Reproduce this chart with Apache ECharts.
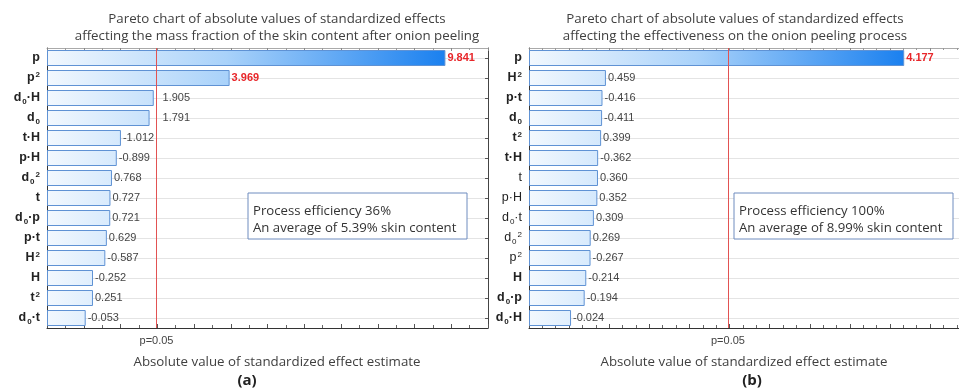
<!DOCTYPE html>
<html>
<head>
<meta charset="utf-8">
<script src="https://cdn.jsdelivr.net/npm/echarts@6/dist/echarts.min.js"></script>
<style>
  html, body { margin: 0; padding: 0; background: #fff; }
  #chart { width: 959px; height: 388px; }
</style>
</head>
<body>
<div id="chart"></div>
<script>
// Effect terms (top to bottom) and signed standardized effects
const termsA = ['p', 'p²', 'd₀·H', 'd₀', 't·H', 'p·H', 'd₀²', 't', 'd₀·p', 'p·t', 'H²', 'H', 't²', 'd₀·t'];
const effectsA = [9.841, 3.969, 1.905, 1.791, -1.012, -0.899, 0.768, 0.727, 0.721, 0.629, -0.587, -0.252, 0.251, -0.053];

const termsB = ['p', 'H²', 'p·t', 'd₀', 't²', 't·H', 't', 'p·H', 'd₀·t', 'd₀²', 'p²', 'H', 'd₀·p', 'd₀·H'];
const effectsB = [4.177, 0.459, -0.416, -0.411, 0.399, -0.362, 0.360, 0.352, 0.309, 0.269, -0.267, -0.214, -0.194, -0.024];

// Significance threshold (p = 0.05)
const critValue = 1.98;
const critLabel = 'p=0.05';

const rangeA = [-1, 11];
const rangeB = [-0.5, 4.86];

const titleA = 'Pareto chart of absolute values of standardized effects\naffecting the mass fraction of the skin content after onion peeling';
const titleB = 'Pareto chart of absolute values of standardized effects\naffecting the effectiveness on the onion peeling process';
const noteA = ['Process efficiency 36%', 'An average of 5.39% skin content'];
const noteB = ['Process efficiency 100%', 'An average of 8.99% skin content'];
const xName = 'Absolute value of standardized effect estimate';
const panelTags = ['(a)', '(b)'];

// Terms in panel (b) that are set in regular weight
const plainTermsB = ['t', 'p·H', 'd₀·t', 'd₀²', 'p²'];

const SANS = '"Liberation Sans", Arial, sans-serif';
const UI = '"Open Sans", sans-serif';

function richTerm(name, plain) {
  const pre = plain ? 'r' : 'b';
  let out = '', buf = '';
  const flush = () => { if (buf) { out += '{' + pre + '|' + buf + '}'; buf = ''; } };
  for (const ch of name) {
    if (ch === '₀') { flush(); out += '{' + pre + 'Sub|0}'; }
    else if (ch === '²') { flush(); out += '{' + pre + 'Sup|2}'; }
    else buf += ch;
  }
  flush();
  return out;
}

const richStyles = {
  b: { fontFamily: SANS, fontWeight: 'bold', fontSize: 12.5, color: '#222', lineHeight: 15 },
  bSub: { fontFamily: SANS, fontWeight: 'bold', fontSize: 8, color: '#222', lineHeight: 8, verticalAlign: 'bottom', padding: [0, 0, 0, 1] },
  bSup: { fontFamily: SANS, fontWeight: 'bold', fontSize: 8, color: '#222', lineHeight: 8, verticalAlign: 'top', padding: [0, 0, 0, 1] },
  r: { fontFamily: SANS, fontSize: 12.5, color: '#222', lineHeight: 15 },
  rSub: { fontFamily: SANS, fontSize: 8, color: '#222', lineHeight: 8, verticalAlign: 'bottom', padding: [0, 0, 0, 1] },
  rSup: { fontFamily: SANS, fontSize: 8, color: '#222', lineHeight: 8, verticalAlign: 'top', padding: [0, 0, 0, 1] }
};

const GRID_TOP = 48, GRID_H = 280;

function bottomAxis(gridIndex, range, step, minorSplit, namePad) {
  return {
    type: 'value', gridIndex, position: 'bottom', min: range[0], max: range[1],
    startValue: range[0], interval: step,
    axisLine: { show: true, onZero: false, lineStyle: { color: '#333', width: 1 } },
    axisTick: { show: true, inside: true, length: 4, lineStyle: { color: '#555' } },
    minorTick: { show: true, splitNumber: minorSplit, length: 3, lineStyle: { color: '#666' } },
    axisLabel: { show: false },
    splitLine: { show: false },
    name: xName, nameLocation: 'middle', nameGap: 28,
    nameTextStyle: { fontFamily: UI, fontSize: 13.3, color: '#404040', padding: namePad }
  };
}
function topAxis(gridIndex, range, step, minorSplit) {
  return {
    type: 'value', gridIndex, position: 'top', min: range[0], max: range[1], interval: step,
    axisLine: { show: true, onZero: false, lineStyle: { color: '#aaa', width: 1 } },
    axisTick: { show: true, inside: true, length: 3, lineStyle: { color: '#888' } },
    minorTick: { show: true, splitNumber: minorSplit, length: 2, lineStyle: { color: '#999' } },
    axisLabel: { show: false },
    splitLine: { show: false }
  };
}
function termAxis(gridIndex, terms, plainSet) {
  return {
    type: 'category', gridIndex, position: 'left', data: terms, inverse: true,
    axisLine: { show: true, onZero: false, lineStyle: { color: '#333' } },
    axisTick: { show: true, inside: true, alignWithLabel: true, length: 3, lineStyle: { color: '#555' } },
    axisLabel: {
      margin: 7,
      formatter: (v) => richTerm(v, plainSet.indexOf(v) >= 0),
      rich: richStyles
    },
    splitLine: { show: false }
  };
}

// Faint row guides through each term's centre, kept behind the bars
function rowGuides(xIdx, yIdx, terms) {
  return {
    type: 'line', xAxisIndex: xIdx, yAxisIndex: yIdx, data: [], z: 0, silent: true,
    markLine: {
      silent: true, symbol: 'none', animation: false, z: 0,
      data: terms.map((t) => ({ yAxis: t })),
      lineStyle: { color: '#e4e4e4', width: 1, type: 'solid' },
      label: { show: false }
    }
  };
}

// Vertical significance line with its p-level caption under the axis
function thresholdLine(xIdx, yIdx) {
  return {
    type: 'line', xAxisIndex: xIdx, yAxisIndex: yIdx, data: [], z: 5, silent: true,
    markLine: {
      silent: true, symbol: 'none', animation: false, z: 5,
      data: [{ xAxis: critValue }],
      lineStyle: { color: '#e25252', width: 1, type: 'solid', opacity: 1 },
      label: { show: true, position: 'end', distance: 7, formatter: critLabel,
               fontFamily: SANS, fontSize: 11, color: '#444' }
    }
  };
}

function barSeries(xIdx, yIdx, effects, extra) {
  return {
    type: 'bar', xAxisIndex: xIdx, yAxisIndex: yIdx, z: 2,
    barCategoryGap: '20%',
    data: effects.map((v, i) => {
      const item = { value: Math.abs(v) };
      const lab = {};
      if (Math.abs(v) > critValue) { lab.color = '#e8262a'; lab.fontWeight = 'bold'; }
      if (extra && extra.offsets && extra.offsets[i]) lab.offset = [extra.offsets[i], 0];
      item.label = lab;
      return item;
    }),
    itemStyle: {
      color: extra && extra.fill ? extra.fill : '#9cc9f5',
      borderColor: '#5f92d4', borderWidth: 1
    },
    label: {
      show: true, position: 'right', distance: 2,
      formatter: (p) => effects[p.dataIndex].toFixed(3),
      fontFamily: SANS, fontSize: 11, color: '#444'
    },
    animation: false
  };
}

function noteGraphic(x, y, lines) {
  return [
    { type: 'rect', shape: { x: x, y: y, width: 219, height: 46 },
      style: { fill: '#fff', stroke: '#6f8cbf', lineWidth: 1 }, z: 10 },
    { type: 'text', x: x + 5, y: y + 18,
      style: { text: lines[0], fontFamily: UI, fontSize: 13.2, fill: '#333', verticalAlign: 'middle' }, z: 11 },
    { type: 'text', x: x + 5, y: y + 35,
      style: { text: lines[1], fontFamily: UI, fontSize: 13.2, fill: '#333', verticalAlign: 'middle' }, z: 11 }
  ];
}

function buildOption(extraA, extraB) {
  const titleStyle = { fontFamily: UI, fontSize: 13.3, fontWeight: 'normal', color: '#404040', lineHeight: 17 };
  return {
    backgroundColor: '#fff',
    animation: false,
    title: [
      { text: titleA, left: 277, top: 11, padding: 0, textAlign: 'center', textStyle: titleStyle },
      { text: titleB, left: 735, top: 11, padding: 0, textAlign: 'center', textStyle: titleStyle }
    ],
    grid: [
      { left: 47, top: GRID_TOP, width: 441, height: GRID_H },
      { left: 529, top: GRID_TOP, right: 0, height: GRID_H }
    ],
    xAxis: [
      bottomAxis(0, rangeA, 1, 2, [0, 0, 0, 19]),
      topAxis(0, rangeA, 1, 2),
      bottomAxis(1, rangeB, 0.5, 3, [0, 0, 0, 0]),
      topAxis(1, rangeB, 0.5, 3)
    ],
    yAxis: [
      termAxis(0, termsA, []),
      {
        type: 'category', gridIndex: 0, position: 'right', data: termsA, inverse: true,
        axisLine: { show: true, onZero: false, lineStyle: { color: '#444' } },
        axisTick: { show: true, inside: true, alignWithLabel: true, length: 3, lineStyle: { color: '#555' } },
        axisLabel: { show: false }, splitLine: { show: false }
      },
      termAxis(1, termsB, plainTermsB)
    ],
    series: [
      rowGuides(0, 0, termsA),
      rowGuides(2, 2, termsB),
      barSeries(0, 0, effectsA, extraA),
      barSeries(2, 2, effectsB, extraB),
      thresholdLine(0, 0),
      thresholdLine(2, 2)
    ],
    graphic: [
      ...noteGraphic(248, 193, noteA),
      ...noteGraphic(734, 193, noteB),
      { type: 'text', x: 247, y: 381, style: { text: panelTags[0], fontFamily: UI, fontSize: 15, fontWeight: 'bold',
        fill: '#222', align: 'center', verticalAlign: 'middle' } },
      { type: 'text', x: 752, y: 381, style: { text: panelTags[1], fontFamily: UI, fontSize: 15, fontWeight: 'bold',
        fill: '#222', align: 'center', verticalAlign: 'middle' } }
    ]
  };
}

const chart = echarts.init(document.getElementById('chart'), null, { renderer: 'canvas' });
chart.setOption(buildOption(null, null));

// Second pass: horizontal gradient anchored to the axis scale, and labels nudged past the threshold line
function panelExtras(xIdx, effects, range) {
  const px = (v) => chart.convertToPixel({ xAxisIndex: xIdx }, v);
  const x0 = px(range[0]);
  const maxAbs = Math.max(...effects.map(Math.abs));
  const x1 = px(maxAbs);
  const fill = new echarts.graphic.LinearGradient(x0, 0, x1, 0, [
    { offset: 0, color: '#f2f8fe' },
    { offset: 0.45, color: '#a9d2fa' },
    { offset: 1, color: '#1a80ef' }
  ], true);
  const xc = px(critValue);
  const offsets = effects.map((v) => {
    const end = px(Math.abs(v)) + 2;
    const gap = xc - end;
    return (gap >= -2 && gap < 30) ? (xc + 6 - end) : 0;
  });
  return { fill, offsets };
}
const extraA = panelExtras(0, effectsA, rangeA);
const extraB = panelExtras(2, effectsB, rangeB);
chart.setOption(buildOption(extraA, extraB), true);
</script>
</body>
</html>
